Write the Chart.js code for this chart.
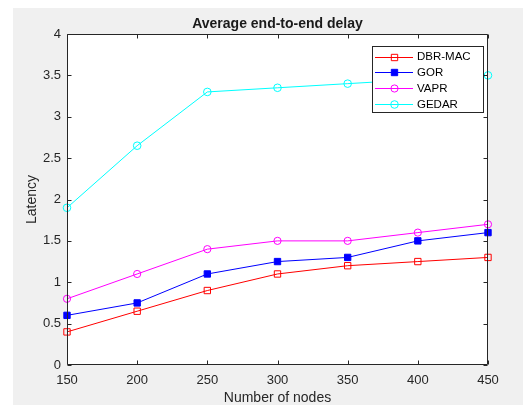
<!DOCTYPE html>
<html>
<head>
<meta charset="utf-8">
<script src="https://cdn.jsdelivr.net/npm/chart.js@4/dist/chart.umd.min.js"></script>
<style>
html,body{margin:0;padding:0;background:#fff;}
canvas{display:block;}
</style>
</head>
<body>
<canvas id="c" width="523" height="405"></canvas>
<script>
const nodes = [150, 200, 250, 300, 350, 400, 450];
const dbrMac = [0.4, 0.65, 0.9, 1.1, 1.2, 1.25, 1.3];
const gor = [0.6, 0.75, 1.1, 1.25, 1.3, 1.5, 1.6];
const vapr = [0.8, 1.1, 1.4, 1.5, 1.5, 1.6, 1.7];
const gedar = [1.9, 2.65, 3.3, 3.35, 3.4, 3.45, 3.5];
const seriesNames = ['DBR-MAC', 'GOR', 'VAPR', 'GEDAR'];
const yTicks = [0, 0.5, 1, 1.5, 2, 2.5, 3, 3.5, 4];
const xTicks = [150, 200, 250, 300, 350, 400, 450];
const chartTitle = 'Average end-to-end delay';

const FONT = 'Arial, "Liberation Sans", Helvetica, sans-serif';
const AX = '#262626';

function pts(arr){ return nodes.map((x,i)=>({x:x,y:arr[i]})); }

const styles = [
  {color:'#ff0000', style:'rect', fill:false, r:4.5},
  {color:'#0000ff', style:'rect', fill:true, r:4.5},
  {color:'#ff00ff', style:'circle', fill:false, r:3.6},
  {color:'#00ffff', style:'circle', fill:false, r:3.8}
];
const seriesData = [dbrMac, gor, vapr, gedar];

const datasets = seriesData.map((d,i)=>({
  label: seriesNames[i],
  data: pts(d),
  borderColor: styles[i].color,
  backgroundColor: styles[i].fill ? styles[i].color : 'rgba(0,0,0,0)',
  pointBorderColor: styles[i].color,
  pointBackgroundColor: styles[i].fill ? styles[i].color : 'rgba(0,0,0,0)',
  pointStyle: styles[i].style,
  pointRadius: styles[i].r,
  pointBorderWidth: 1,
  borderWidth: 1,
  tension: 0,
  fill: false,
  clip: false
}));

function drawMarker(ctx, s, x, y){
  ctx.save();
  ctx.strokeStyle = s.color; ctx.fillStyle = s.color; ctx.lineWidth = 1;
  ctx.beginPath();
  if (s.style === 'rect') {
    const h = Math.SQRT1_2 * s.r;
    ctx.rect(x-h, y-h, 2*h, 2*h);
  } else {
    ctx.arc(x, y, s.r, 0, Math.PI*2);
  }
  if (s.fill) ctx.fill();
  ctx.stroke();
  ctx.restore();
}

const matlabPlugin = {
  id: 'matlab',
  beforeDraw(chart){
    const ctx = chart.ctx, a = chart.chartArea;
    ctx.save();
    ctx.fillStyle = '#ffffff';
    ctx.fillRect(0,0,chart.width,chart.height);
    ctx.fillStyle = '#f0f0f0';
    ctx.fillRect(13,8,chart.width-13,chart.height-8);
    ctx.fillStyle = '#ffffff';
    ctx.fillRect(a.left,a.top,a.right-a.left,a.bottom-a.top);
    ctx.fillStyle = '#1a1a1a';
    ctx.font = 'bold 14px ' + FONT;
    ctx.textAlign = 'center';
    ctx.textBaseline = 'alphabetic';
    ctx.fillText(chartTitle, (a.left+a.right)/2, 28);
    ctx.restore();
  },
  afterDatasetsDraw(chart){
    const ctx = chart.ctx, a = chart.chartArea;
    const xs = chart.scales.x, ys = chart.scales.y;
    const L = Math.round(a.left)+0.5, R = Math.round(a.right)-0.5;
    const T = Math.round(a.top)+0.5, B = Math.round(a.bottom)-0.5;
    ctx.save();
    ctx.strokeStyle = AX; ctx.lineWidth = 1;
    ctx.beginPath();
    ctx.rect(L, T, R-L, B-T);
    xTicks.forEach(v=>{
      const px = Math.round(xs.getPixelForValue(v))+0.5;
      ctx.moveTo(px,B); ctx.lineTo(px,B-4);
      ctx.moveTo(px,T); ctx.lineTo(px,T+4);
    });
    yTicks.forEach(v=>{
      const py = Math.round(ys.getPixelForValue(v))+0.5;
      ctx.moveTo(L,py); ctx.lineTo(L+4,py);
      ctx.moveTo(R,py); ctx.lineTo(R-4,py);
    });
    ctx.stroke();

    // legend
    const lx = 372.5, ly = 46.5, lw = 111, lh = 66;
    ctx.fillStyle = '#ffffff';
    ctx.fillRect(lx, ly, lw, lh);
    ctx.strokeStyle = AX;
    ctx.strokeRect(lx, ly, lw, lh);
    ctx.font = '11.5px ' + FONT;
    ctx.textBaseline = 'middle';
    ctx.textAlign = 'left';
    chart.data.datasets.forEach((ds,i)=>{
      const y = 56.5 + i*15.8;
      const s = styles[i];
      ctx.strokeStyle = s.color;
      ctx.beginPath();
      ctx.moveTo(375, Math.round(y)+0.5); ctx.lineTo(413, Math.round(y)+0.5);
      ctx.stroke();
      drawMarker(ctx, s, 394.5, Math.round(y)+0.5);
      ctx.fillStyle = '#000000';
      ctx.fillText(ds.label, 417, y+0.5);
    });
    ctx.restore();
  }
};

new Chart(document.getElementById('c'), {
  type: 'line',
  data: { datasets: datasets },
  plugins: [matlabPlugin],
  options: {
    responsive: false,
    animation: false,
    devicePixelRatio: 1,
    layout: { padding: { left: 0, right: 35, top: 34, bottom: 0 } },
    plugins: {
      legend: { display: false },
      tooltip: { enabled: false },
      title: { display: false }
    },
    scales: {
      x: {
        type: 'linear',
        min: 150, max: 450,
        grid: { display: false, drawTicks: false },
        border: { display: false },
        afterBuildTicks(scale){ scale.ticks = xTicks.map(v=>({value:v})); },
        afterFit(scale){ scale.height = 40; },
        ticks: {
          color: AX, padding: 8,
          font: { family: FONT, size: 13 },
          callback: v => String(v),
          maxRotation: 0, autoSkip: false
        },
        title: {
          display: true, text: 'Number of nodes', color: AX,
          font: { family: FONT, size: 14, lineHeight: 1 },
          padding: { top: 0, bottom: 0 }
        }
      },
      y: {
        min: 0, max: 4,
        grid: { display: false, drawTicks: false },
        border: { display: false },
        afterBuildTicks(scale){ scale.ticks = yTicks.map(v=>({value:v})); },
        afterFit(scale){ scale.width = 67; },
        ticks: {
          color: AX, padding: 6,
          font: { family: FONT, size: 13 },
          callback: v => String(v),
          autoSkip: false
        },
        title: {
          display: true, text: 'Latency', color: AX,
          font: { family: FONT, size: 14, lineHeight: 1 },
          padding: { top: 25, bottom: 0 }
        }
      }
    }
  }
});
</script>
</body>
</html>
